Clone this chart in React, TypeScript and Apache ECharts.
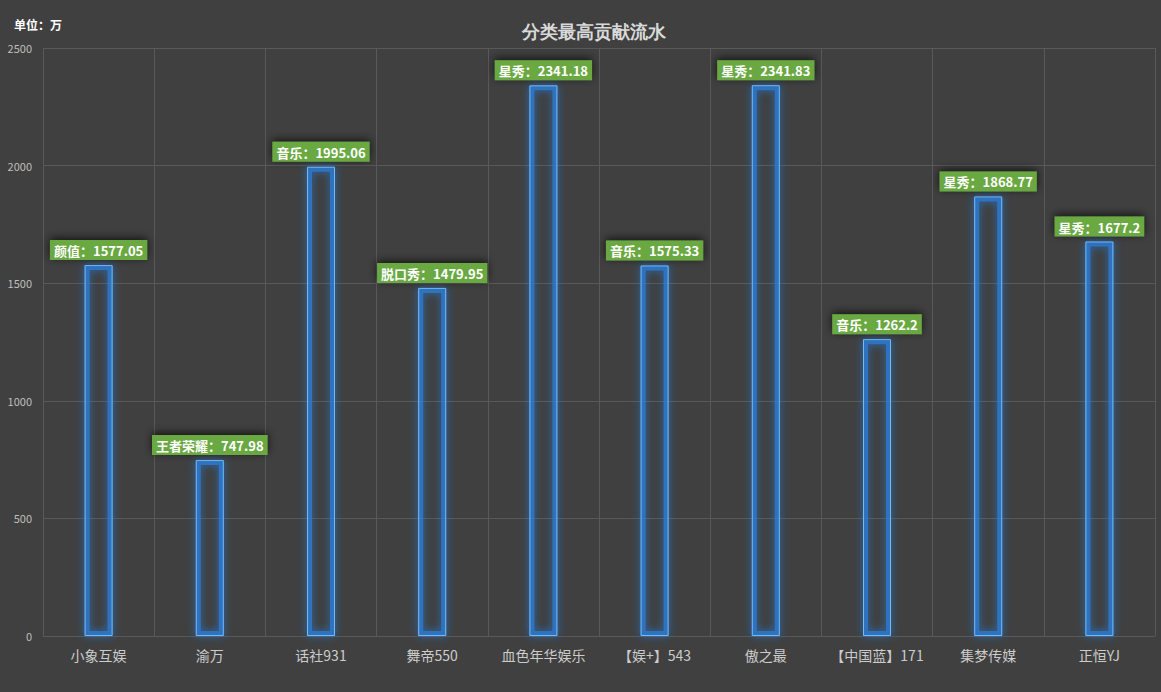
import React, { useEffect, useRef } from "react";
import * as echarts from "echarts";

const categories = ["小象互娱", "渝万", "话社931", "舞帝550", "血色年华娱乐", "【娱+】543", "傲之最", "【中国蓝】171", "集梦传媒", "正恒YJ"];
const types = ["颜值", "王者荣耀", "音乐", "脱口秀", "星秀", "音乐", "星秀", "音乐", "星秀", "星秀"];
const values = [1577.05, 747.98, 1995.06, 1479.95, 2341.18, 1575.33, 2341.83, 1262.2, 1868.77, 1677.2];

export default function App() {
  const ref = useRef<HTMLDivElement>(null);
  useEffect(() => {
    const chart = echarts.init(ref.current!, null, { renderer: "svg" });
    chart.setOption({
      animation: false,
      backgroundColor: "#404040",
      title: [
        {
          text: "分类最高贡献流水",
          left: 517,
          top: 18,
          textStyle: { color: "#d9d9d9", fontSize: 18, fontWeight: "bold", fontFamily: "serif" },
        },
        {
          text: "单位：万",
          left: 9,
          top: 13,
          textStyle: { color: "#ffffff", fontSize: 12, fontWeight: "bold", fontFamily: "Noto Sans CJK SC" },
        },
      ],
      grid: { left: 43, right: 6, top: 48, bottom: 56 },
      xAxis: {
        type: "category",
        data: categories,
        axisLine: { show: false },
        axisTick: { show: false },
        axisLabel: { interval: 0, color: "#cccccc", fontSize: 14, margin: 12, fontFamily: "Noto Sans CJK SC" },
        splitLine: { show: true, interval: 0, lineStyle: { color: "#595959", width: 1 } },
      },
      yAxis: {
        type: "value",
        min: 0,
        max: 2500,
        interval: 500,
        axisLine: { show: false },
        axisTick: { show: false },
        axisLabel: {
          color: "#bfbfbf",
          fontSize: 11,
          margin: 11,
          fontFamily: "Noto Sans CJK SC",
          formatter: (v: number) => String(v),
        },
        splitLine: { lineStyle: { color: "#595959", width: 1 } },
      },
      series: [
        {
          type: "bar",
          data: values,
          barWidth: 28,
          silent: true,
          itemStyle: {
            color: "transparent",
            borderColor: "rgba(45,125,215,0.75)",
            borderWidth: 5,
            shadowColor: "rgba(30,130,240,0.9)",
            shadowBlur: 8,
          },
        },
        {
          type: "bar",
          data: values,
          barWidth: 28,
          barGap: "-100%",
          itemStyle: {
            color: "transparent",
            borderColor: "#74baf7",
            borderWidth: 1,
          },
          label: {
            show: true,
            position: "top",
            distance: 5,
            formatter: (p: any) => `${types[p.dataIndex]}：${values[p.dataIndex]}`,
            color: "#ffffff",
            fontSize: 13,
            fontWeight: 600,
            fontFamily: "Noto Sans CJK SC",
            backgroundColor: "#6aa842",
            padding: [4, 4, 3, 4],
            shadowColor: "rgba(0,0,0,0.7)",
            shadowBlur: 8,
            shadowOffsetY: -2,
          },
        },
      ],
    });
    return () => chart.dispose();
  }, []);
  return <div ref={ref} style={{ width: 1161, height: 692, position: "absolute", left: 0, top: 0 }} />;
}
